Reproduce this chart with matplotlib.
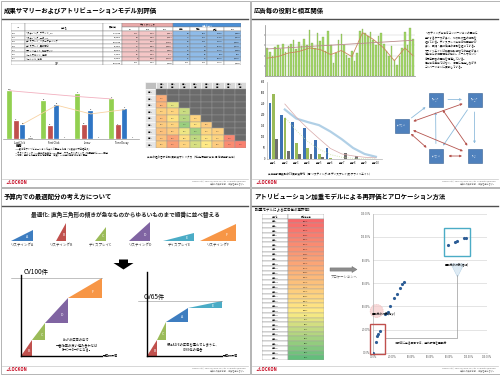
#!/usr/bin/env python3
# plot.py
#
# Four report slides (attribution analysis) redrawn on one 500x375 canvas.

import numpy as np
import matplotlib
matplotlib.use("Agg")
import matplotlib.pyplot as plt
from matplotlib.patches import Rectangle, Polygon, FancyArrow, FancyArrowPatch
from matplotlib.colors import LinearSegmentedColormap

plt.rcParams['font.family'] = ['Noto Sans CJK JP', 'DejaVu Sans']
plt.rcParams['axes.linewidth'] = 0.5

W, H = 500, 375

# ---------------- data ----------------
TITLES = ["成果サマリーおよびアトリビューションモデル別評価",
          "広告毎の役割と相互関係",
          "予算内での最適配分の考え方について",
          "アトリビューション加重モデルによる再評価とアロケーション方法"]
COPYRIGHT = "Copyright(C) 2010 LOCKON Co.,Ltd. All Rights Reserved."
COPYRIGHT2 = "本資料の無断転載・複製を禁じます。"

# slide 1 : summary table
SUMMARY_IDS = ["001", "002", "003", "004", "005", "006", "007"]
SUMMARY_NAMES = ["リスティング_ブランド_PC", "リスティング_一般_PC", "ディスプレイ_リターゲティング",
                 "ディスプレイ_興味関心", "アフィリエイト_比較サイト", "メールマガジン_定期", "ソーシャル_広告"]
SUMMARY_COST = ["152,000", "98,000", "245,000", "87,000", "64,000", "12,000", "35,000"]
SUMMARY_CV = [[120, "2.1%", "1,267"], [84, "1.6%", "1,167"], [65, "0.8%", "3,769"], [22, "0.5%", "3,955"],
              [41, "1.2%", "1,561"], [18, "3.2%", "667"], [9, "0.4%", "3,889"]]
SUMMARY_ATTR = [[98, 131, "109%", "1,551"], [77, 102, "121%", "1,273"], [88, 109, "168%", "2,248"],
                [31, 40, "182%", "2,175"], [35, 44, "107%", "1,455"], [14, 17, "94%", "706"],
                [11, 16, "178%", "2,188"]]
SUMMARY_TOTAL = ["合計", "693,000", "359", "1.2%", "1,930", "354", "459", "128%", "1,510"]

# slide 1 : conversions by attribution model
MODELS = ["Last Click", "First Click", "Linear", "Time Decay"]
CV_GREEN = [100, 78, 94, 83]
CV_RED = [38, 27, 30, 28]
CV_BLUE = [30, 71, 58, 63]
CV_GRAY = [3, 1, 1, 1]
LINE_PINK = [100, 94, 88, 83]
LINE_ORANGE = [31, 70, 52, 61]

# slide 1 : contribution matrix (lower triangle, row r has r cells)
HEAT_LABELS = ["広告1", "広告2", "広告3", "広告4", "広告5", "広告6", "広告7", "広告8", "広告9"]
HEAT_VALUES = [[],
               [0.35],
               [0.40, 0.72],
               [0.52, 0.55, 0.78],
               [0.45, 0.62, 0.82, 0.55],
               [0.50, 0.55, 0.88, 0.62, 0.50],
               [0.45, 0.50, 0.70, 0.86, 0.56, 0.52],
               [0.46, 0.30, 0.60, 0.80, 0.62, 0.55, 0.15],
               [0.50, 0.28, 0.55, 0.75, 0.66, 0.50, 0.18, 0.12]]

# slide 2 : daily conversions
DAILY_CV = [55, 48, 40, 57, 60, 52, 62, 48, 58, 63, 70, 52, 66, 58, 72, 60, 90, 64, 55, 85,
            68, 76, 50, 88, 60, 26, 45, 70, 82, 60, 42, 36, 50, 30, 45, 88, 92, 85, 78, 86,
            70, 60, 78, 84, 62, 50, 40, 58, 32, 22, 40, 55, 86, 60, 95, 72]
AVG_DAY = [0, 4, 8, 12, 16, 20, 24, 28, 32, 36, 40, 44, 48, 52, 55]
AVG_CV = [35, 38, 45, 48, 55, 52, 42, 50, 38, 85, 72, 55, 30, 55, 40]
TREND_DAY = [0, 55]
TREND_CV = [53, 70]
NOTE2 = ["リスティング広告はコンバージョンの直前に",
         "接触するケースが多く、刈り取り型の役割を",
         "担っている。ディスプレイ広告は初回接触が",
         "多く、認知・興味喚起の役割を担っている。",
         "アフィリエイトは比較検討段階での接触が多く",
         "他広告との相互関係が強い。メールマガジン",
         "は既存顧客の再訪を促進している。",
         "各広告は単独ではなく、相互に補完しながら",
         "コンバージョンに貢献している。"]

# slide 2 : contact rank distribution
RANKS = ["接触1", "接触2", "接触3", "接触4", "接触5", "接触6", "接触7", "接触8", "接触9", "接触10"]
RANK_BLUE = [255, 199, 170, 139, 86, 51, 0, 0, 0, 0]
RANK_GREEN = [297, 187, 71, 51, 23, 3, 0, 0, 0, 0]
RANK_GRAY = [89, 38, 23, 23, 10, 0, 26, 14, 0, 0]
CURVE_RANK = [1, 2, 3, 4, 5, 6, 7, 8, 9]
CURVE_BLUE = [225, 184, 168, 154, 125, 90, 50, 23, 10]
CURVE_PINK = [250, 191, 139, 93, 48, 23, 14, 8, 5]
CURVE_GREEN = [190, 130, 80, 45, 20, 8, 3, 1, 0]

# slide 2 : relations between ads
NODES = ["ﾘｽﾃｨﾝｸﾞ\nA", "ﾘｽﾃｨﾝｸﾞ\nB", "ﾃﾞｨｽﾌﾟﾚｲ\nC", "ﾃﾞｨｽﾌﾟﾚｲ\nD", "ｱﾌｨﾘ\nE"]
LINKS_BLUE = [(2, 0), (0, 1), (3, 0), (1, 4), (1, 3)]
LINKS_RED = [(2, 1), (2, 4), (2, 3), (3, 4), (0, 4)]

# slide 3 : efficiency triangles
AD_KEYS = ["A", "B", "C", "D", "E", "F"]
AD_NAMES = ["リスティングA", "リスティングB", "ディスプレイC", "リスティングD", "ディスプレイE", "リスティングF"]
AD_COLORS = ["#3d7dc0", "#c0504d", "#9bbb59", "#8064a2", "#4bacc6", "#f79646"]
AD_COST = [22, 10, 12, 21, 32, 37]
AD_CV = [11, 18, 14, 19, 8, 17]
SUBTITLE = "最適化: 直角三角形の傾きが急なものからゆるいものまで順番に並べ替える"

STEP_L_ADS = ["B", "C", "D", "F"]
STEP_L_COST = [14, 16, 28, 42]
STEP_L_CV = [20, 23, 31, 26]
STEP_R_ADS = ["B", "C", "A", "E"]
STEP_R_COST = [14, 11, 30, 45]
STEP_R_CV = [19, 21, 17, 8]

# slide 4 : re-evaluation table and allocation scatter
ALLOC_ADS = ["広告%d" % (i + 1) for i in range(30)]
ALLOC_SCORE = [271, 176, 168, 159, 152, 148, 143, 139, 134, 131, 127, 124, 121, 118, 115,
               112, 109, 106, 103, 100, 97, 94, 90, 86, 81, 76, 70, 63, 55, 46]
SCAT_X = [0, 3, 4, 5, 7, 12, 14, 15, 17.5, 22, 25, 28, 30.5, 32.6, 79, 86, 88, 95, 97.6]
SCAT_Y = [0, 9.5, 14, 16, 19, 33, 34, 35, 40, 47.5, 51, 55.6, 59, 61, 93, 96, 96.5, 99, 99.3]
PCT_TICKS = [0, 20, 40, 60, 80, 100, 120]

# ---------------- drawing ----------------
fig = plt.figure(figsize=(5, 3.75), dpi=100)
fig.patch.set_facecolor('white')

ov = fig.add_axes([0, 0, 1, 1])
ov.set_xlim(0, W)
ov.set_ylim(H, 0)
ov.axis('off')
ov.patch.set_alpha(0)


def add_ax(x, y, w, h):
    # pixel box measured from the top-left corner of the canvas
    ax = fig.add_axes([x / W, 1 - (y + h) / H, w / W, h / H])
    ax.patch.set_alpha(0)
    return ax


excel = LinearSegmentedColormap.from_list("excel", ["#f8696b", "#fbaa77", "#ffeb84", "#63be7b"])

# slide frames, titles, footers
for i, (sx, sy) in enumerate([(0, 0), (250, 0), (0, 187), (250, 187)]):
    ov.add_patch(Rectangle((sx + 0.5, sy + 0.5), 249, 186.5, fill=False, ec='#a8a8a8', lw=0.6))
    ov.text(sx + 4, sy + 10, TITLES[i], fontsize=4.6, fontweight='bold', va='center')
    ov.plot([sx + 2, sx + 248], [sy + 19, sy + 19], color='#505050', lw=1.0)
    ov.plot([sx + 2, sx + 248], [sy + 178.5, sy + 178.5], color='#c8c8c8', lw=0.5)
    ov.text(sx + 6, sy + 182.5, "∠LOCKON", color='#c4001a', fontsize=3.0,
            fontweight='bold', style='italic', va='center')
    ov.text(sx + 246, sy + 181, COPYRIGHT, fontsize=1.5, color='#777777', ha='right', va='center')
    ov.text(sx + 246, sy + 184, COPYRIGHT2, fontsize=1.5, color='#777777', ha='right', va='center')

# ---- slide 1 : table
col_w = [14, 78, 19, 17, 17, 17, 17, 17, 17, 17]
col_x = np.concatenate([[0], np.cumsum(col_w)])
tax = add_ax(11, 23, 230, 42)
tax.set_xlim(0, col_x[-1])
tax.set_ylim(10, 0)
tax.axis('off')
fs = 1.6
# header
for c, lab in enumerate(["ID", "広告名", "費用(円)"]):
    tax.add_patch(Rectangle((col_x[c], 0), col_w[c], 2, fc='white', ec='#808080', lw=0.3))
    tax.text(col_x[c] + col_w[c] / 2, 1, lab, fontsize=fs, ha='center', va='center')
tax.add_patch(Rectangle((col_x[3], 0), col_x[6] - col_x[3], 1, fc='#e9a9a9', ec='#808080', lw=0.3))
tax.text((col_x[3] + col_x[6]) / 2, 0.5, "ラストクリック", fontsize=fs, ha='center', va='center')
tax.add_patch(Rectangle((col_x[6], 0), col_x[10] - col_x[6], 1, fc='#4a8fd6', ec='#808080', lw=0.3))
tax.text((col_x[6] + col_x[10]) / 2, 0.5, "加重モデル", fontsize=fs, ha='center', va='center', color='white')
for c, lab in zip(range(3, 10), ["CV", "CVR", "CPA", "直接", "間接", "評価", "CPA"]):
    tax.add_patch(Rectangle((col_x[c], 1), col_w[c], 1, fc='white', ec='#808080', lw=0.3))
    tax.text(col_x[c] + col_w[c] / 2, 1.5, lab, fontsize=fs, ha='center', va='center')
for r in range(len(SUMMARY_IDS)):
    row = [SUMMARY_IDS[r], SUMMARY_NAMES[r], SUMMARY_COST[r]] + SUMMARY_CV[r] + SUMMARY_ATTR[r]
    for c, v in enumerate(row):
        fc = 'white' if c < 3 else ('#f4c6c6' if c < 6 else '#8fbbe8')
        tax.add_patch(Rectangle((col_x[c], 2 + r), col_w[c], 1, fc=fc, ec='#808080', lw=0.3))
        tax.text(col_x[c + 1] - 1 if c > 1 else col_x[c] + 1, 2.5 + r, str(v), fontsize=fs,
                 ha='right' if c > 1 else 'left', va='center')
tax.add_patch(Rectangle((0, 9), col_x[2], 1, fc='white', ec='#808080', lw=0.3))
tax.text(col_x[2] / 2, 9.5, SUMMARY_TOTAL[0], fontsize=fs, ha='center', va='center')
for c in range(2, 10):
    tax.add_patch(Rectangle((col_x[c], 9), col_w[c], 1, fc='white', ec='#808080', lw=0.3))
    tax.text(col_x[c + 1] - 1, 9.5, SUMMARY_TOTAL[c - 1], fontsize=fs, ha='right', va='center')

# ---- slide 1 : grouped bars by model
bax = add_ax(3, 84, 136, 55)
xg = np.arange(len(MODELS))
bw = 0.15
for off, vals, col in [(0, CV_GREEN, '#92d050'), (0.19, CV_RED, '#c0504d'),
                       (0.38, CV_BLUE, '#2f75c4'), (0.6, CV_GRAY, '#7f7f7f')]:
    bars = bax.bar(xg + off, vals, bw, color=col, ec='white', lw=0.2)
    for b, v in zip(bars, vals):
        bax.text(b.get_x() + bw / 2, v + 2, str(v), fontsize=1.5, ha='center', va='bottom')
bax.plot(xg, LINE_PINK, color='#f2b0bf', lw=0.6)
bax.plot(xg + 0.38, LINE_ORANGE, color='#f8d2a2', lw=0.6)
bax.set_xlim(-0.2, 3.8)
bax.set_ylim(0, 114)
for s in ['top', 'right', 'left']:
    bax.spines[s].set_visible(False)
bax.spines['bottom'].set_color('#999999')
bax.set_xticks(xg + 0.3)
bax.set_xticklabels(MODELS, fontsize=1.8)
bax.tick_params(length=0, pad=1.5)
bax.set_yticks([])
ov.text(15, 146, "備考", fontsize=2.4, fontweight='bold', va='center')
for k, line in enumerate(["※CV数は各アトリビューションモデルで配分した値（小数点以下四捨五入）",
                          "※ラストクリック：CV直前の広告に100%配分　ファーストクリック：初回接触に100%配分",
                          "※線形：接触した全広告に均等配分　減衰：CVに近い接触ほど高く配分"]):
    ov.text(15, 149.5 + k * 3, line, fontsize=1.6, va='center')

# ---- slide 1 : contribution matrix
hax = add_ax(145, 82, 101, 66)
nrow = len(HEAT_VALUES)
hax.set_xlim(0, nrow)
hax.set_ylim(nrow + 1, 0)
hax.axis('off')
hax.add_patch(Rectangle((0, 0), 1, 1, fc='#bfbfbf', ec='white', lw=0.4))
for c in range(nrow - 1):
    hax.add_patch(Rectangle((c + 1, 0), 1, 1, fc='#d9d9d9', ec='white', lw=0.4))
    hax.text(c + 1.5, 0.5, HEAT_LABELS[c] + "\n広告", fontsize=1.3, ha='center', va='center')
for r in range(nrow):
    hax.add_patch(Rectangle((0, r + 1), 1, 1, fc='#e6e6e6', ec='white', lw=0.4))
    hax.text(0.5, r + 1.5, HEAT_LABELS[r], fontsize=1.3, ha='center', va='center')
    for c in range(nrow - 1):
        if c < len(HEAT_VALUES[r]):
            v = HEAT_VALUES[r][c]
            fc = excel(v)
            txt = "%d%%" % int(v * 100)
        else:
            fc = '#6b6b6b'
            txt = "-"
        hax.add_patch(Rectangle((c + 1, r + 1), 1, 1, fc=fc, ec='#9a9a9a', lw=0.3))
        hax.text(c + 1.5, r + 1.5, txt, fontsize=1.3, ha='center', va='center',
                 color='#333333' if c < len(HEAT_VALUES[r]) else '#8a8a8a')
ov.text(147, 157, "広告の組み合わせ別 貢献度マトリクス（縦:先行接触広告 横:後続接触広告）",
        fontsize=1.9, va='center')

# ---- slide 2 : daily bars
dax = add_ax(265, 25, 150, 51)
days = np.arange(len(DAILY_CV))
dax.bar(days, DAILY_CV, 0.6, color='#a5d86a', ec='#6f9f3c', lw=0.2)
dax.plot(AVG_DAY, AVG_CV, color='#c8875a', lw=0.6)
dax.plot(TREND_DAY, TREND_CV, color='#b98a8a', lw=0.6)
dax.set_xlim(-0.8, len(DAILY_CV) - 0.2)
dax.set_ylim(0, 100)
dax.set_yticks([20, 40, 60, 80])
dax.set_yticklabels([])
dax.set_xticks([])
dax.tick_params(length=1, width=0.3)
dax.grid(axis='y', color='#c8c8c8', lw=0.3)
dax.set_axisbelow(True)
for s in ['top', 'right']:
    dax.spines[s].set_visible(False)
dax.spines['left'].set_color('#888888')
dax.spines['bottom'].set_color('#888888')
for k, line in enumerate(NOTE2):
    ov.text(425, 34 + k * 4.2, line, fontsize=1.9, va='center')

# ---- slide 2 : contact rank bars
rax = add_ax(266.6, 82, 115, 77)
xr = np.arange(len(RANKS))
rax.bar(xr - 0.3, RANK_BLUE, 0.24, color='#3d72b4')
rax.bar(xr + 0.02, RANK_GREEN, 0.24, color='#9bbb59')
rax.bar(xr + 0.3, RANK_GRAY, 0.24, color='#6f6f6f')
rax.plot(CURVE_RANK, CURVE_BLUE, color='#a9cbe4', lw=1.6, alpha=0.9)
rax.plot(CURVE_RANK, CURVE_PINK, color='#d7a8a8', lw=0.5)
rax.plot(CURVE_RANK, CURVE_GREEN, color='#c6df9c', lw=0.6, ls=':')
rax.set_xlim(-0.6, 9.5)
rax.set_ylim(0, 350)
rax.set_yticks(range(0, 351, 50))
rax.tick_params(axis='y', labelsize=1.8, length=0, pad=1)
rax.set_xticks(xr)
rax.set_xticklabels(RANKS, fontsize=1.8)
rax.tick_params(axis='x', length=0, pad=1.5)
for s in ['top', 'right']:
    rax.spines[s].set_visible(False)
rax.spines['left'].set_color('#b0b0b0')
rax.spines['bottom'].set_color('#b0b0b0')
ov.text(268, 173, "広告接触回数別のCV貢献度分布（青:リスティング 緑:ディスプレイ 灰:アフィリエイト）",
        fontsize=1.9, va='center')

# ---- slide 2 : relation diagram
nax = add_ax(388, 88, 102, 82)
nax.set_xlim(388, 490)
nax.set_ylim(170, 88)
nax.axis('off')
node_xy = [(435.5, 99.5), (474.5, 99.5), (401.5, 125.5), (436, 156), (474.5, 156)]
for (a, b), col, style in ([(l, '#8fbcdc', '-|>') for l in LINKS_BLUE] +
                           [(l, '#b5554f', '<|-|>') for l in LINKS_RED]):
    nax.add_patch(FancyArrowPatch(node_xy[a], node_xy[b], arrowstyle=style, mutation_scale=3,
                                  color=col, lw=0.6, shrinkA=9, shrinkB=9))
for (nx, ny), lab in zip(node_xy, NODES):
    nax.add_patch(Rectangle((nx - 7, ny - 7), 14, 14, fc='#4f81bd', ec='#355f91', lw=0.4))
    nax.text(nx, ny, lab, fontsize=1.6, color='white', ha='center', va='center')

# ---- slide 3 : triangle row
ov.text(125, 215, SUBTITLE, fontsize=4.1, fontweight='bold', ha='center', va='center', color='#222222')
tri = add_ax(2.4, 218, 235.2, 28)
tri.set_xlim(0, 240)
tri.set_ylim(-5, 23)
tri.axis('off')
for k, (key, name, col, w, h) in enumerate(zip(AD_KEYS, AD_NAMES, AD_COLORS, AD_COST, AD_CV)):
    cx = 20 + 40 * k
    tri.add_patch(Polygon([(cx - w / 2, 0), (cx + w / 2, 0), (cx + w / 2, h)], closed=True, fc=col, ec='none'))
    tri.text(cx + w / 4, h / 3, key, fontsize=2.6, color='white', ha='center', va='center')
    tri.text(cx, -3.2, name, fontsize=2.5, ha='center', va='center', color='#333333')

# big arrow between the rows
ov.add_patch(Polygon([(119, 259.5), (128, 259.5), (128, 263), (133.5, 263), (123.5, 269.5),
                      (113.5, 263), (119, 263)], closed=True, fc='black', ec='none'))


def step_chart(ax, keys, costs, cvs, total, ymax, note, nx, ny):
    x0, y0 = 0, 0
    for key, w, h in zip(keys, costs, cvs):
        col = AD_COLORS[AD_KEYS.index(key)]
        ax.add_patch(Polygon([(x0, y0), (x0 + w, y0), (x0 + w, y0 + h)], closed=True, fc=col, ec='none'))
        ax.text(x0 + w * 0.72, y0 + h * 0.33, key, fontsize=2.6, color='white', ha='center', va='center')
        x0 += w
        y0 += h
    ax.set_xlim(0, 100)
    ax.set_ylim(0, ymax)
    ax.set_xticks([])
    ax.set_yticks([])
    for s in ['top', 'right']:
        ax.spines[s].set_visible(False)
    ax.spines['left'].set_linewidth(1.0)
    ax.spines['bottom'].set_linewidth(1.0)
    ax.axvline(100, color='#b0b0b0', lw=0.4)
    ax.plot([-12, 100], [total, total], color='#909090', lw=0.4, clip_on=False)
    ax.text(102, 0, "予算限界値", fontsize=2.2, va='center', ha='left', clip_on=False)
    ax.text(nx, ny, note, fontsize=2.3, ha='center', va='center', linespacing=1.5)


lax = add_ax(21, 275, 80.7, 81)
step_chart(lax, STEP_L_ADS, STEP_L_COST, STEP_L_CV, sum(STEP_L_CV), 104,
           "A～Fの広告の中で\n一番効率の良い組み合わせは\nB→C→D→Fとなる。", 69, 14)
lax.text(3, 108, "CV%d件" % sum(STEP_L_CV), fontsize=4.6, va='center', clip_on=False)
rax2 = add_ax(147, 272, 74.7, 84)
step_chart(rax2, STEP_R_ADS, STEP_R_COST, STEP_R_CV, sum(STEP_R_CV), 99.3,
           "仮にAかEの広告を選んでしまうと、\nCV65件の場合", 62, 11)
rax2.text(-5, 69.5, "CV%d件" % sum(STEP_R_CV), fontsize=4.6, va='center', clip_on=False)

# ---- slide 4 : re-evaluation table
ov.text(253, 209.5, "【加重モデルによる広告毎の再評価】", fontsize=2.5, va='center')
aax = add_ax(262, 214, 62, 146)
nr = len(ALLOC_ADS)
aax.set_xlim(0, 62)
aax.set_ylim(nr + 1, 0)
aax.axis('off')
aax.add_patch(Rectangle((0, 0), 25.7, 1, fc='white', ec='#808080', lw=0.3))
aax.add_patch(Rectangle((25.7, 0), 36.3, 1, fc='white', ec='#808080', lw=0.3))
aax.text(12.8, 0.5, "広告名", fontsize=1.5, ha='center', va='center')
aax.text(43.8, 0.5, "評価向上率", fontsize=1.5, ha='center', va='center')
smin, smax = min(ALLOC_SCORE), max(ALLOC_SCORE)
for r, (name, sc) in enumerate(zip(ALLOC_ADS, ALLOC_SCORE)):
    frac = r / (nr - 1)
    aax.add_patch(Rectangle((0, r + 1), 25.7, 1, fc='white', ec='#808080', lw=0.3))
    aax.add_patch(Rectangle((25.7, r + 1), 36.3, 1, fc=excel(frac), ec='#a0a0a0', lw=0.3))
    aax.text(12.8, r + 1.5, name, fontsize=1.5, ha='center', va='center')
    aax.text(43.8, r + 1.5, "%d%%" % sc, fontsize=1.5, ha='center', va='center')

ov.add_patch(FancyArrow(330, 269.5, 22, 0, width=3.2, head_width=6, head_length=5,
                        length_includes_head=False, fc='#8c8c8c', ec='#6a6a6a', lw=0.3))
ov.text(331, 277, "アロケーションへ", fontsize=2.4, va='center', color='#555555')

# ---- slide 4 : allocation scatter
sax = add_ax(373.3, 213.7, 114, 139)
sax.scatter(SCAT_X, SCAT_Y, s=1.6, color='#2d5d96', zorder=3)
sax.set_xlim(0, 120)
sax.set_ylim(0, 120)
sax.set_xticks(PCT_TICKS)
sax.set_yticks(PCT_TICKS)
sax.set_xticklabels(["%.2f%%" % t for t in PCT_TICKS], fontsize=1.8, color='#555555')
sax.set_yticklabels(["%.2f%%" % t for t in PCT_TICKS], fontsize=1.8, color='#555555')
sax.tick_params(length=0, pad=2)
sax.grid(axis='y', color='#d0d0d0', lw=0.4)
for s in ['top', 'right']:
    sax.spines[s].set_visible(False)
sax.spines['left'].set_color('#b0b0b0')
sax.spines['bottom'].set_color('#d0d0d0')
sax.add_patch(Rectangle((-4, -1), 16.3, 25.5, fill=False, ec='#c0504d', lw=1.0, clip_on=False, zorder=4))
sax.add_patch(Rectangle((74.4, 83.5), 27.4, 24.5, fill=False, ec='#4bacc6', lw=1.0, clip_on=False, zorder=4))
sax.scatter([3.5], [36], s=90, color='#f6c9c9', alpha=0.7, ec='#e49a9a', lw=0.3, ls='--',
            clip_on=False, zorder=2)
sax.text(-2, 33, "再配分の対象(減少)", fontsize=2.0, va='center', clip_on=False, zorder=5)
sax.scatter([87.8], [71], s=90, marker='v', color='#d6e6f2', alpha=0.8, ec='#9cc2de', lw=0.3,
            zorder=2)
sax.text(87.8, 75.5, "再配分の対象(増加)", fontsize=2.0, ha='center', va='center', zorder=5)
sax.plot([87.8, 87.8, 12.3], [67, 12.4, 12.4], color='#9a9a9a', lw=0.5, zorder=2)
sax.text(50, 8, "相対的に劣る広告では、過剰評価を再配分", fontsize=2.0, ha='center', va='center', zorder=5)

fig.savefig("out.png", dpi=100, facecolor='white')
